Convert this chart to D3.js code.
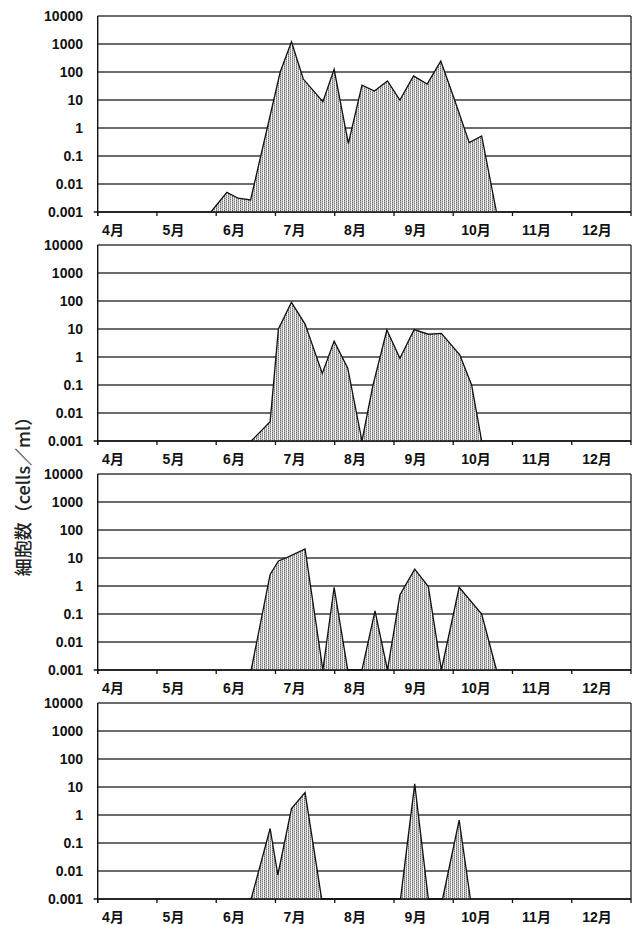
<!DOCTYPE html>
<html><head><meta charset="utf-8">
<script src="https://cdn.jsdelivr.net/npm/d3@7"></script>
<style>body{margin:0;background:#fff}svg{display:block}</style>
</head><body>
<svg id="chart" width="634" height="925"></svg>
<script>
// ---- data ----
const monthLabels = ["4月","5月","6月","7月","8月","9月","10月","11月","12月"];
const monthTicks = [4,5,6,7,8,9,10,11,12,13];
const yTicks = [0.001,0.01,0.1,1,10,100,1000,10000];
const yTickLabels = ["0.001","0.01","0.1","1","10","100","1000","10000"];
const yAxisTitle = "細胞数（cells／ml）";

// month position (4 = 1 April) and cell density
const p1Month = [5.91,6.18,6.37,6.58,7.08,7.27,7.47,7.80,7.99,8.23,8.46,8.67,8.89,9.10,9.33,9.56,9.79,10.00,10.27,10.48,10.73];
const p1Value = [0.001,0.005,0.0031,0.0027,100,1200,56,8.7,125,0.28,34,21,48,10,72,37,246,14,0.3,0.52,0.001];

const p2Month = [6.59,6.91,7.05,7.27,7.50,7.79,7.99,8.22,8.46,8.64,8.88,9.10,9.34,9.58,9.80,10.11,10.31,10.48];
const p2Value = [0.001,0.0049,10,90,15,0.26,3.7,0.4,0.001,0.087,9.2,0.9,9.5,6.5,7,1.2,0.1,0.001];

const p3Month = [6.59,6.91,7.05,7.19,7.50,7.80,7.99,8.22,8.46,8.68,8.89,9.10,9.35,9.58,9.80,10.10,10.48,10.73];
const p3Value = [0.001,2.6,7.8,10.3,21,0.001,0.9,0.001,0.001,0.13,0.001,0.48,4,0.95,0.001,0.9,0.1,0.001];

const p4Month = [6.59,6.91,7.04,7.27,7.50,7.78,9.11,9.35,9.58,9.82,10.10,10.29];
const p4Value = [0.001,0.33,0.0072,1.7,6.3,0.001,0.001,13,0.001,0.001,0.66,0.001];

const panels = [
  {month:p1Month, value:p1Value},
  {month:p2Month, value:p2Value},
  {month:p3Month, value:p3Value},
  {month:p4Month, value:p4Value}
];

// ---- layout ----
const svg = d3.select("#chart");
const left = 97.7, right = 631;
const panelTops = [16, 245, 474, 703];
const panelH = 196;

const defs = svg.append("defs");
const pat = defs.append("pattern").attr("id","dots")
  .attr("patternUnits","userSpaceOnUse").attr("width",4).attr("height",2);
pat.append("rect").attr("width",4).attr("height",2).attr("fill","#f4f4f4");
pat.append("rect").attr("x",0).attr("y",0).attr("width",1).attr("height",1).attr("fill","#6a6a6a");
pat.append("rect").attr("x",0).attr("y",1).attr("width",1).attr("height",1).attr("fill","#a8a8a8");
pat.append("rect").attr("x",2).attr("y",1).attr("width",1).attr("height",1).attr("fill","#7a7a7a");
pat.append("rect").attr("x",2).attr("y",0).attr("width",1).attr("height",1).attr("fill","#b8b8b8");
pat.append("rect").attr("x",1).attr("y",0).attr("width",1).attr("height",2).attr("fill","#d8d8d8");

const x = d3.scaleLinear().domain([4,13]).range([left,right]);
const xLab = d3.scalePoint().domain(monthLabels).range([113,597]);

panels.forEach((p,i)=>{
  const top = panelTops[i], bottom = top + panelH;
  const y = d3.scaleLog().domain([0.001,10000]).range([bottom, top]);
  const g = svg.append("g");

  // gridlines
  g.selectAll("line.grid").data(yTicks).join("line")
    .attr("x1",left).attr("x2",right)
    .attr("y1",d=>y(d)).attr("y2",d=>y(d))
    .attr("stroke","#3a3a3a").attr("stroke-width",1.3);

  // right border
  g.append("line").attr("x1",right).attr("x2",right).attr("y1",top).attr("y2",bottom)
    .attr("stroke","#222").attr("stroke-width",1.3);

  // area
  const data = p.month.map((m,k)=>({m, v:p.value[k]}));
  const area = d3.area().x(d=>x(d.m)).y0(bottom).y1(d=>y(d.v));
  const line = d3.line().x(d=>x(d.m)).y(d=>y(d.v));
  g.append("path").datum(data).attr("d",area).attr("fill","url(#dots)");
  g.append("path").datum(data).attr("d",line).attr("fill","none")
    .attr("stroke","#111").attr("stroke-width",1.3).attr("stroke-linejoin","miter");

  // left axis line
  g.append("line").attr("x1",left).attr("x2",left).attr("y1",top).attr("y2",bottom+4)
    .attr("stroke","#111").attr("stroke-width",1.4);
  // bottom axis
  g.append("line").attr("x1",left-4).attr("x2",right).attr("y1",bottom).attr("y2",bottom)
    .attr("stroke","#111").attr("stroke-width",1.6);
  g.selectAll("line.tick").data(monthTicks).join("line")
    .attr("x1",d=>x(d)).attr("x2",d=>x(d)).attr("y1",bottom).attr("y2",bottom+4)
    .attr("stroke","#111").attr("stroke-width",1.3);

  // y tick labels
  g.selectAll("text.yl").data(yTicks).join("text")
    .attr("x",83).attr("y",d=>y(d)).attr("dy","0.38em")
    .attr("text-anchor","end")
    .attr("font-family","'Liberation Sans', Arial, sans-serif")
    .attr("font-weight","bold").attr("font-size",14).attr("fill","#111")
    .text((d,k)=>yTickLabels[k]);

  // month labels
  g.selectAll("text.ml").data(monthLabels).join("text")
    .attr("x",d=>xLab(d)).attr("y",bottom+23)
    .attr("text-anchor","middle")
    .attr("font-family","'Liberation Sans', 'Noto Sans CJK JP', sans-serif")
    .attr("font-weight","bold").attr("font-size",14).attr("fill","#111")
    .text(d=>d);
});

svg.append("text")
  .attr("transform","translate(30,492) rotate(-90)")
  .attr("text-anchor","middle")
  .attr("font-family","'Noto Sans CJK JP', sans-serif")
  .attr("font-weight","500").attr("font-size",18).attr("fill","#222")
  .text(yAxisTitle);
</script>
</body></html>
